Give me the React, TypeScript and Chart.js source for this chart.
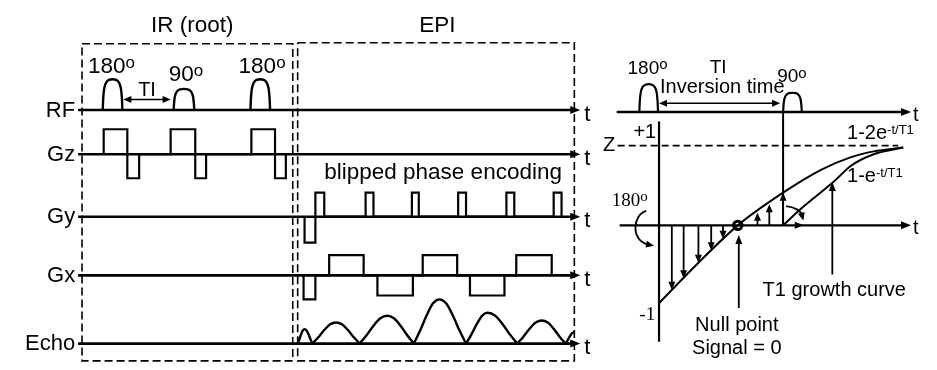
import { useEffect, useRef } from "react";
import { Chart, registerables } from "chart.js";
Chart.register(...registerables);

// ================= DATA =================
// Left panel: IR-EPI pulse sequence. Rows (x = time position, values = amplitude above the row's baseline)
const rowNames = ["RF", "Gz", "Gy", "Gx", "Echo"];
const rowLevels = [107, 153, 218, 279, 350];
const seqTimeRange = [72, 582];

const rfPulseStart = [97, 169, 247];
const rfPulseEnd = [117, 190, 267];
const rfPulseAmp = [32, 22, 32];
const rfPulseAngle = ["180", "90", "180"];

// RF envelope profile (fraction of width, fraction of height)
const pulseProfileX = [0, 0.03, 0.08, 0.18, 0.32, 0.5, 0.68, 0.82, 0.92, 0.97, 1];
const pulseProfileY = [0, 0.42, 0.72, 0.9, 0.98, 1, 0.98, 0.9, 0.72, 0.42, 0];

// gradient lobes: [start, end, amplitude]
const gzLobes = [[98, 122, 26], [122, 134, -25], [166, 191, 26], [191, 202, -25], [248, 272, 26], [272, 283, -25]];
const gyLobes = [[302, 313, -27], [313, 322, 25], [364, 372, 25], [411, 418, 25], [458, 466, 25], [507, 515, 25], [555, 563, 25]];
const gxLobes = [[301, 313, -25], [327, 362, 21], [376, 412, -21], [422, 457, 21], [470, 505, -21], [517, 553, 21]];

// echo humps: start, peak position, end, peak amplitude
const echoStart = [295, 310, 358, 413, 466, 518, 567];
const echoPeakAt = [302, 334, 386, 439, 488, 543, 576];
const echoEnd = [310, 358, 413, 466, 518, 567, 576];
const echoPeak = [15, 22, 29, 46, 32, 24, 12];
// hump profile on each flank (fraction of flank width, fraction of peak height)
const humpProfileX = [0, 0.25, 0.5, 0.75, 1];
const humpProfileY = [0, 0.3, 0.64, 0.91, 1];

// dashed boxes [left, top, right, bottom]
const boxIR = [76, 38, 290, 368];
const boxEPI = [295, 37, 576, 368];

// Right panel: inversion recovery
const irRfLevel = 109;
const irRfRange = [619, 918];
const irPulseStart = [642, 788];
const irPulseEnd = [661, 807];
const irPulseAmp = [29, 20];
const tiArrowLevel = 100;

const mzZeroLevel = 227;
const mzTimeRange = [622, 918];
const mzAxisX = 662;
const mzAxisRange = [119, 348];
const mzPlusOneLevel = 144;
const mzPlusOneRange = [620, 905];

const invRecoveryX = [662, 700, 742, 788, 827, 857, 880, 910];
const invRecoveryY = [308, 268, 227, 193, 169, 156, 150, 146];
const satRecoveryX = [788, 807, 839, 857, 880, 910];
const satRecoveryY = [227, 209, 182, 165, 153, 146];

const mzSampleX = [675, 687, 702, 715, 727, 762, 774, 788];
const mzSampleY = [294, 282, 266, 253, 241, 214, 205, 193];

const nullPoint = [742, 227];

// ================= HELPERS =================
const K = "#000";
type P = [number, number];

function line(pts: P[], width = 2.2, extra: any = {}) {
  return {
    data: pts.map(([x, y]) => ({ x, y })),
    showLine: true,
    borderColor: K,
    backgroundColor: K,
    borderWidth: width,
    pointRadius: 0,
    tension: 0,
    fill: false,
    borderJoinStyle: "miter",
    borderCapStyle: "butt",
    ...extra,
  };
}

function lobePts(lobes: number[][], base: number): P[] {
  const pts: P[] = [];
  lobes.forEach(([s, e, a]) => {
    pts.push([s, base], [s, base - a], [e, base - a], [e, base]);
  });
  return pts;
}

function pulsePts(s: number, e: number, a: number, base: number): P[] {
  return pulseProfileX.map((f, i) => [s + (e - s) * f, base - a * pulseProfileY[i]] as P);
}

function humpPts(s: number, p: number, e: number, a: number, base: number): P[] {
  const pts: P[] = humpProfileX.map((f, i) => [s + (p - s) * f, base - a * humpProfileY[i]] as P);
  if (e > p) {
    for (let i = humpProfileX.length - 2; i >= 0; i--) {
      pts.push([p + (e - p) * (1 - humpProfileX[i]), base - a * humpProfileY[i]]);
    }
  }
  return pts;
}

function boxPts(b: number[]): P[] {
  return [[b[0], b[1]], [b[2], b[1]], [b[2], b[3]], [b[0], b[3]], [b[0], b[1]]];
}

type Head = { x: number; y: number; a: number; len?: number; w?: number };
type Txt = {
  t: string; x: number; y: number; size: number; align?: CanvasTextAlign;
  sup?: string; supSize?: number; supRaise?: number; serif?: boolean;
};

const SANS = '"Liberation Sans", Arial, sans-serif';
const SERIF = '"Liberation Serif", "Times New Roman", serif';

export default function App() {
  const ref = useRef<HTMLCanvasElement>(null);

  useEffect(() => {
    document.body.style.margin = "0";
    const datasets: any[] = [];

    // boxes
    datasets.push(line(boxPts(boxIR), 1.6, { borderDash: [8, 4] }));
    datasets.push(line(boxPts(boxEPI), 1.6, { borderDash: [8, 4] }));

    // axes of the sequence rows
    rowLevels.forEach((lv) => datasets.push(line([[seqTimeRange[0], lv], [seqTimeRange[1] - 6, lv]], 2.6)));

    // RF pulses
    rfPulseStart.forEach((s, i) =>
      datasets.push(line(pulsePts(s, rfPulseEnd[i], rfPulseAmp[i], rowLevels[0]), 2.4, { tension: 0.3 }))
    );
    // TI arrow
    datasets.push(line([[121, 96], [163, 96]], 1.6));

    datasets.push(line(lobePts(gzLobes, rowLevels[1]), 2.2));
    datasets.push(line(lobePts(gyLobes, rowLevels[2]), 2.2));
    datasets.push(line(lobePts(gxLobes, rowLevels[3]), 2.2));

    echoStart.forEach((s, i) =>
      datasets.push(line(humpPts(s, echoPeakAt[i], echoEnd[i], echoPeak[i], rowLevels[4]), 2.4, { cubicInterpolationMode: "monotone" }))
    );

    // ---- right panel ----
    datasets.push(line([[irRfRange[0], irRfLevel], [irRfRange[1] - 6, irRfLevel]], 2.4));
    irPulseStart.forEach((s, i) =>
      datasets.push(line(pulsePts(s, irPulseEnd[i], irPulseAmp[i], irRfLevel), 2.2, { tension: 0.3 }))
    );
    datasets.push(line([[irPulseEnd[0] + 4, tiArrowLevel], [irPulseStart[1] - 6, tiArrowLevel]], 1.6));

    datasets.push(line([[mzTimeRange[0], mzZeroLevel], [mzTimeRange[1] - 6, mzZeroLevel]], 2.2));
    datasets.push(line([[mzAxisX, mzAxisRange[0]], [mzAxisX, mzAxisRange[1]]], 2.2));
    datasets.push(line([[irPulseStart[1], irRfLevel], [irPulseStart[1], mzZeroLevel]], 2.0));
    datasets.push(line([[mzPlusOneRange[0], mzPlusOneLevel], [mzPlusOneRange[1], mzPlusOneLevel]], 1.6, { borderDash: [7, 4] }));

    datasets.push(line(invRecoveryX.map((x, i) => [x, invRecoveryY[i]] as P), 2.0, { cubicInterpolationMode: "monotone", tension: 0.4 }));
    datasets.push(line(satRecoveryX.map((x, i) => [x, satRecoveryY[i]] as P), 2.0, { cubicInterpolationMode: "monotone", tension: 0.4 }));

    mzSampleX.forEach((x, i) => {
      const tip = mzSampleY[i];
      const down = tip > mzZeroLevel;
      datasets.push(line([[x, mzZeroLevel], [x, tip + (down ? -5 : 5)]], 1.8));
    });

    // null point pointer & T1 growth pointer
    datasets.push(line([[743, 313], [743, 243]], 1.8));
    datasets.push(line([[838, 278], [838, 187]], 1.8));

    // null point dot
    datasets.push({
      data: [{ x: nullPoint[0], y: nullPoint[1] }],
      showLine: false,
      pointRadius: 4.2,
      pointBorderWidth: 3,
      pointBorderColor: K,
      pointBackgroundColor: "#fff",
    });

    const heads: Head[] = [];
    rowLevels.forEach((lv) => heads.push({ x: seqTimeRange[1], y: lv, a: 0, len: 10, w: 8 }));
    heads.push({ x: 118, y: 96, a: Math.PI, len: 8, w: 7 }, { x: 166, y: 96, a: 0, len: 8, w: 7 });
    heads.push({ x: irRfRange[1], y: irRfLevel, a: 0, len: 10, w: 8 });
    heads.push({ x: mzTimeRange[1], y: mzZeroLevel, a: 0, len: 10, w: 8 });
    heads.push({ x: irPulseEnd[0] + 1, y: tiArrowLevel, a: Math.PI, len: 8, w: 7 });
    heads.push({ x: irPulseStart[1] - 3, y: tiArrowLevel, a: 0, len: 8, w: 7 });
    mzSampleX.forEach((x, i) => {
      const down = mzSampleY[i] > mzZeroLevel;
      heads.push({ x, y: mzSampleY[i], a: down ? Math.PI / 2 : -Math.PI / 2, len: 8, w: 7 });
    });
    heads.push({ x: 809, y: mzZeroLevel, a: 0, len: 9, w: 7 });
    heads.push({ x: 743, y: 237, a: -Math.PI / 2, len: 9, w: 7 });
    heads.push({ x: 838, y: 182, a: -Math.PI / 2, len: 9, w: 7 });

    // curved rotation arrows: p0, c1, c2, p1 (+ head at end)
    const curves = [
      [[649, 212], [635, 216], [633, 243], [651, 247]],
      [[791, 207], [800, 208], [806, 212], [807, 216]],
    ];

    const texts: Txt[] = [
      { t: "IR (root)", x: 188, y: 26, size: 22.5, align: "center" },
      { t: "EPI", x: 437, y: 26, size: 22.5, align: "center" },
      { t: rfPulseAngle[0], x: 82, y: 68, size: 22.5, sup: "o", supSize: 17, supRaise: 5 },
      { t: rfPulseAngle[1], x: 164, y: 77, size: 22.5, sup: "o", supSize: 17, supRaise: 5 },
      { t: rfPulseAngle[2], x: 235, y: 68, size: 22.5, sup: "o", supSize: 17, supRaise: 5 },
      { t: "TI", x: 142, y: 92, size: 20, align: "center" },
      { t: "blipped phase encoding", x: 322, y: 179, size: 22.5 },
      ...rowNames.map((n, i) => ({ t: n, x: 69, y: rowLevels[i] + 7, size: 22, align: "right" as CanvasTextAlign })),
      ...rowLevels.map((lv) => ({ t: "t", x: 586, y: lv + 11, size: 22 })),
      // right panel
      { t: "180", x: 630, y: 69, size: 19, sup: "o", supSize: 15, supRaise: 4.5 },
      { t: "TI", x: 722, y: 68, size: 19, align: "center" },
      { t: "90", x: 782, y: 78, size: 19, sup: "o", supSize: 15, supRaise: 4.5 },
      { t: "Inversion time", x: 663, y: 89, size: 20 },
      { t: "t", x: 920, y: irRfLevel + 9, size: 20 },
      { t: "t", x: 920, y: mzZeroLevel + 9, size: 20 },
      { t: "Z", x: 605, y: 150, size: 20 },
      { t: "+1", x: 636, y: 136, size: 20 },
      { t: "1-2e", x: 853, y: 137, size: 20, sup: "-t/T1", supSize: 13, supRaise: 5 },
      { t: "1-e", x: 853, y: 182, size: 20, sup: "-t/T1", supSize: 13, supRaise: 5 },
      { t: "180", x: 614, y: 207, size: 19, serif: true, sup: "o", supSize: 15, supRaise: 5.5 },
      { t: "-1", x: 642, y: 325, size: 19, serif: true },
      { t: "T1 growth curve", x: 840, y: 300, size: 20, align: "center" },
      { t: "Null point", x: 741, y: 337, size: 20, align: "center" },
      { t: "Signal = 0", x: 741, y: 361, size: 20, align: "center" },
    ];

    const overlay = {
      id: "overlay",
      afterDatasetsDraw(chart: any) {
        const ctx: CanvasRenderingContext2D = chart.ctx;
        const xs = chart.scales.x;
        const ys = chart.scales.y;
        const px = (v: number) => xs.getPixelForValue(v);
        const py = (v: number) => ys.getPixelForValue(v);
        ctx.save();
        ctx.fillStyle = K;
        ctx.strokeStyle = K;

        const drawHead = (x: number, y: number, a: number, len = 9, w = 7) => {
          ctx.save();
          ctx.translate(x, y);
          ctx.rotate(a);
          ctx.beginPath();
          ctx.moveTo(0, 0);
          ctx.lineTo(-len, -w / 2);
          ctx.lineTo(-len, w / 2);
          ctx.closePath();
          ctx.fill();
          ctx.restore();
        };

        curves.forEach((c) => {
          ctx.lineWidth = 1.8;
          ctx.beginPath();
          ctx.moveTo(px(c[0][0]), py(c[0][1]));
          ctx.bezierCurveTo(px(c[1][0]), py(c[1][1]), px(c[2][0]), py(c[2][1]), px(c[3][0]), py(c[3][1]));
          ctx.stroke();
          const dx = px(c[3][0]) - px(c[2][0]);
          const dy = py(c[3][1]) - py(c[2][1]);
          const a = Math.atan2(dy, dx);
          drawHead(px(c[3][0]) + Math.cos(a) * 6, py(c[3][1]) + Math.sin(a) * 6, a, 8, 7);
        });

        heads.forEach((h) => drawHead(px(h.x), py(h.y), h.a, h.len, h.w));

        texts.forEach((t) => {
          const fam = t.serif ? SERIF : SANS;
          ctx.textBaseline = "alphabetic";
          ctx.textAlign = "left";
          ctx.font = `${t.size}px ${fam}`;
          const mw = ctx.measureText(t.t).width;
          let sw = 0;
          if (t.sup) {
            ctx.font = `${t.supSize}px ${fam}`;
            sw = ctx.measureText(t.sup).width;
          }
          const total = mw + sw;
          let x0 = px(t.x);
          if (t.align === "center") x0 -= total / 2;
          else if (t.align === "right") x0 -= total;
          const y0 = py(t.y);
          ctx.font = `${t.size}px ${fam}`;
          ctx.fillText(t.t, x0, y0);
          if (t.sup) {
            ctx.font = `${t.supSize}px ${fam}`;
            ctx.fillText(t.sup, x0 + mw, y0 - (t.supRaise || 0));
          }
        });
        ctx.restore();
      },
    };

    const chart = new Chart(ref.current!, {
      type: "scatter",
      data: { datasets },
      options: {
        responsive: false,
        animation: false,
        layout: { padding: 0 },
        events: [],
        plugins: { legend: { display: false }, tooltip: { enabled: false } },
        scales: {
          x: { type: "linear", min: 0, max: 937, display: false },
          y: { type: "linear", min: 0, max: 370, reverse: true, display: false },
        },
      },
      plugins: [overlay],
    } as any);
    return () => chart.destroy();
  }, []);

  return <canvas ref={ref} width={937} height={370} style={{ display: "block", width: 937, height: 370 }} />;
}
